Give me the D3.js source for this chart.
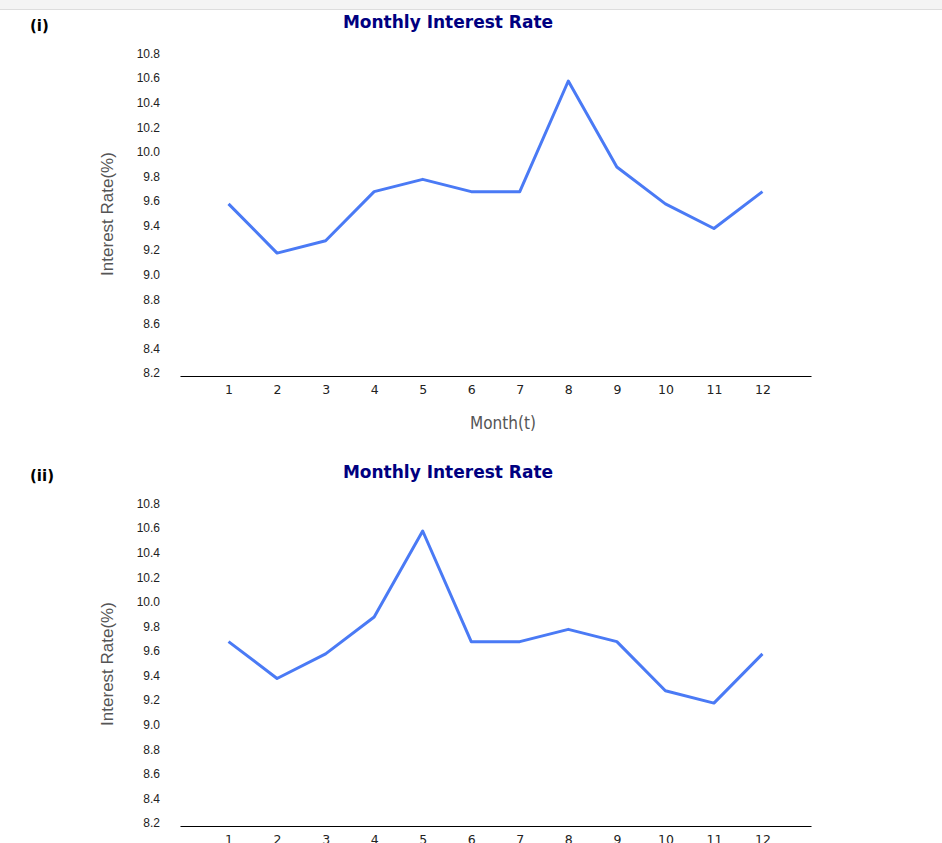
<!DOCTYPE html>
<html lang="en">
  <head>
    <meta charset="utf-8">
    <title>Monthly Interest Rate</title>
    <script src="https://d3js.org/d3.v7.min.js"></script>
    <style>
      body { margin: 0; background: #fff; }
      .yAxis text { font: 12px "Liberation Sans", Arial, sans-serif; fill: #222; }
      .xAxis text { font: 12.5px "DejaVu Sans", sans-serif; fill: #222; }
    </style>
  </head>
  <body>
    <div id="chart"></div>
    <script>
      var months = [1, 2, 3, 4, 5, 6, 7, 8, 9, 10, 11, 12];
      var rates1 = [9.6, 9.2, 9.3, 9.7, 9.8, 9.7, 9.7, 10.6, 9.9, 9.6, 9.4, 9.7];
      var rates2 = [9.7, 9.4, 9.6, 9.9, 10.6, 9.7, 9.7, 9.8, 9.7, 9.3, 9.2, 9.6];
      var yTicks = [8.2, 8.4, 8.6, 8.8, 9.0, 9.2, 9.4, 9.6, 9.8, 10.0, 10.2, 10.4, 10.6, 10.8];
      var panelLabels = ["(i)", "(ii)"];
      var title = "Monthly Interest Rate";

      var w = 942, h = 843;

      var svg = d3.select("#chart").append("svg")
                  .attr("width", w).attr("height", h)
                  .style("display", "block");

      // grey strip at the top of the page
      svg.append("rect").attr("x", 0).attr("y", 0)
         .attr("width", w).attr("height", 9).attr("fill", "#f4f4f4");
      svg.append("line").attr("x1", 0).attr("x2", w)
         .attr("y1", 9.5).attr("y2", 9.5)
         .attr("stroke", "#ddd").attr("stroke-width", 1);

      var xScale = d3.scaleLinear().domain([0, 13]).range([180, 811]);
      var yScale = d3.scaleLinear().domain([8.2, 10.6]).range([376, 81]);

      function drawPanel(top, values, label) {
        var g = svg.append("g").attr("transform", `translate(0, ${top})`);

        g.append("text").attr("x", 30).attr("y", 31)
         .attr("font-family", "DejaVu Sans, sans-serif")
         .attr("font-weight", "bold").attr("font-size", 15)
         .attr("fill", "#000").text(label);

        g.append("text").attr("x", 448).attr("y", 28)
         .attr("text-anchor", "middle")
         .attr("font-family", "DejaVu Sans, sans-serif")
         .attr("font-weight", "bold").attr("font-size", 17)
         .attr("fill", "#000080").text(title);

        var yAxis = d3.axisLeft(yScale).tickValues(yTicks)
                      .tickFormat(d3.format(".1f")).tickSize(0).tickPadding(0);
        var ya = g.append("g").attr("class", "yAxis")
                  .attr("transform", "translate(160, -3)").call(yAxis);
        ya.select(".domain").remove();

        var xAxis = d3.axisBottom(xScale).tickValues(months)
                      .tickSize(0).tickPadding(9);
        var xa = g.append("g").attr("class", "xAxis")
                  .attr("transform", `translate(0, ${yScale(8.2)})`).call(xAxis);
        xa.select(".domain").attr("stroke", "#000").attr("stroke-width", 1.2);

        g.append("text").attr("x", 503).attr("y", 429)
         .attr("text-anchor", "middle")
         .attr("font-family", "DejaVu Sans Condensed, DejaVu Sans, sans-serif")
         .attr("font-size", 17).attr("fill", "#555").text("Month(t)");

        g.append("text")
         .attr("transform", "translate(113, 214) rotate(-90)")
         .attr("text-anchor", "middle")
         .attr("font-family", "Liberation Sans, Arial, sans-serif")
         .attr("font-size", 17).attr("fill", "#555").text("Interest Rate(%)");

        var line = d3.line()
                     .x((d, i) => xScale(months[i]))
                     .y(d => yScale(d));

        g.append("path").datum(values)
         .attr("d", line)
         .attr("fill", "none")
         .attr("stroke", "#4a7af5")
         .attr("stroke-width", 3)
         .attr("stroke-linejoin", "round");
      }

      drawPanel(0, rates1, panelLabels[0]);
      drawPanel(450, rates2, panelLabels[1]);
    </script>
  </body>
</html>
